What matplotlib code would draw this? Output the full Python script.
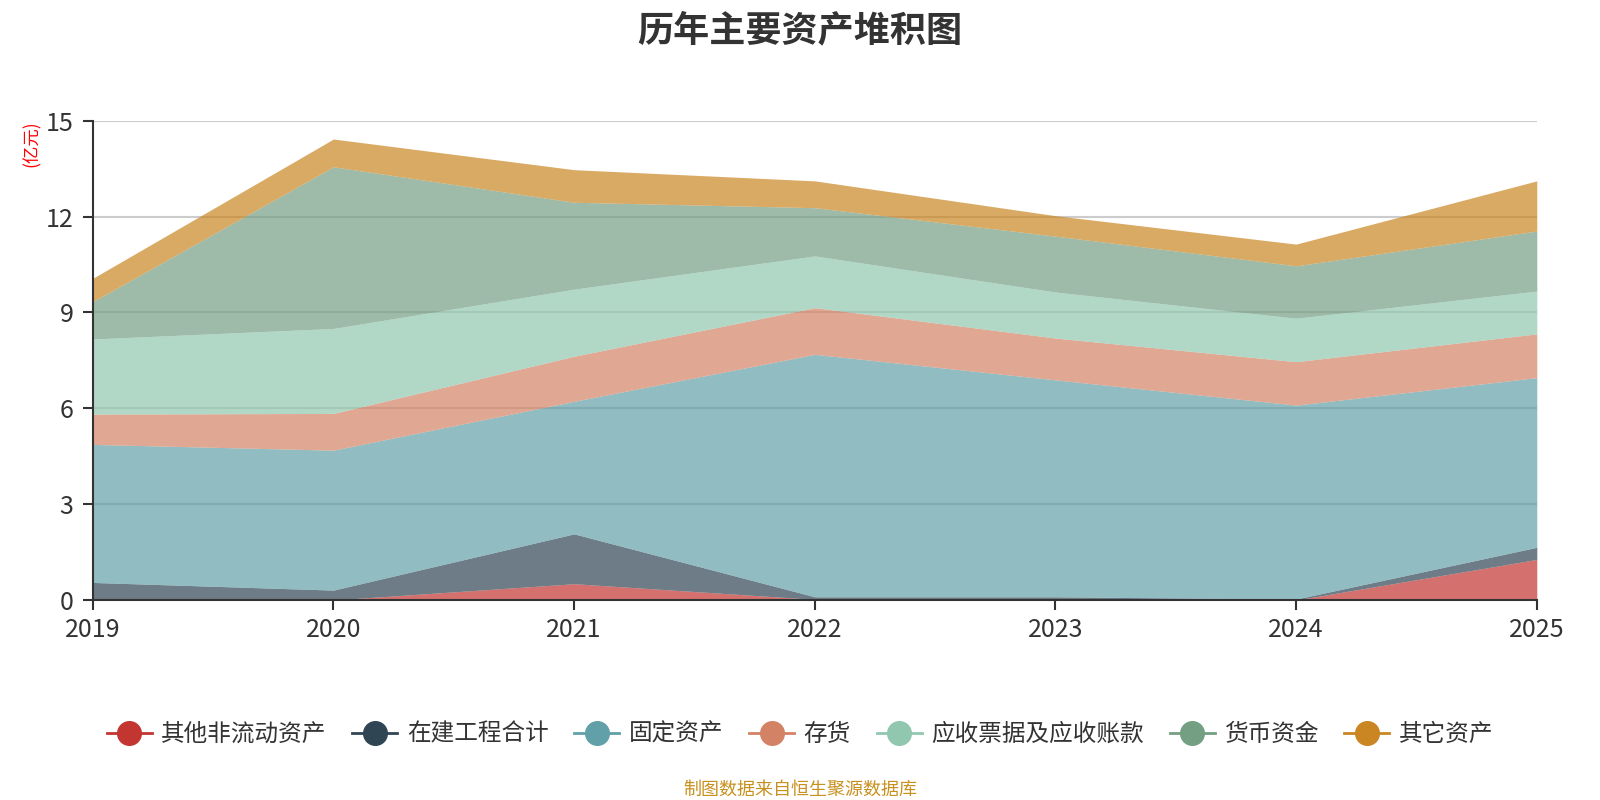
"""
历年主要资产堆积图
==================
堆积面积图，按年份展示各类资产（亿元）。
"""
import numpy as np
import matplotlib.pyplot as plt
from matplotlib.lines import Line2D

plt.rcParams["font.family"] = ["Noto Sans CJK SC", "DejaVu Sans"]
plt.rcParams["axes.unicode_minus"] = False

# 数据（亿元），自下而上堆积
years = [2019, 2020, 2021, 2022, 2023, 2024, 2025]
other_noncurrent = [0.00, 0.00, 0.51, 0.02, 0.01, 0.00, 1.27]   # 其他非流动资产
construction = [0.55, 0.31, 1.56, 0.08, 0.09, 0.03, 0.38]       # 在建工程合计
fixed_assets = [4.32, 4.38, 4.15, 7.59, 6.79, 6.07, 5.31]       # 固定资产
inventory = [0.95, 1.15, 1.41, 1.46, 1.31, 1.36, 1.37]          # 存货
receivables = [2.35, 2.66, 2.10, 1.62, 1.44, 1.36, 1.34]        # 应收票据及应收账款
cash = [1.17, 5.06, 2.72, 1.51, 1.75, 1.64, 1.88]               # 货币资金
other_assets = [0.73, 0.87, 1.02, 0.84, 0.64, 0.68, 1.57]       # 其它资产

series_names = ["其他非流动资产", "在建工程合计", "固定资产", "存货",
                "应收票据及应收账款", "货币资金", "其它资产"]
series_values = [other_noncurrent, construction, fixed_assets, inventory,
                 receivables, cash, other_assets]
colors = ["#c23531", "#2f4554", "#61a0a8", "#d48265",
          "#91c7ae", "#749f83", "#ca8622"]

fig = plt.figure(figsize=(16, 8), dpi=100)
ax = fig.add_axes([0.058, 0.25, 0.9025, 0.599])

# 堆积面积
base = np.zeros(len(years))
for name, vals, color in zip(series_names, series_values, colors):
    top = base + np.array(vals)
    ax.fill_between(years, base, top, color=color, alpha=0.7,
                    linewidth=0, zorder=2)
    base = top

# 坐标轴
ax.set_xlim(years[0], years[-1])
ax.set_ylim(0, 15)
ax.set_xticks(years)
ax.set_yticks(range(0, 16, 3))
ax.yaxis.grid(True, color="#cccccc", linewidth=1.5, zorder=1)
ax.set_axisbelow(True)
for side in ["top", "right"]:
    ax.spines[side].set_visible(False)
for side in ["left", "bottom"]:
    ax.spines[side].set_color("#333333")
    ax.spines[side].set_linewidth(1.5)
    ax.spines[side].set_zorder(3)
ax.tick_params(axis="both", colors="#333333", labelsize=18,
               length=7, width=1.5, direction="out")
ax.tick_params(axis="x", pad=5)
ax.tick_params(axis="y", pad=7)

# 标题、单位
fig.text(0.5, 0.962, "历年主要资产堆积图", ha="center", va="center",
         fontsize=26, fontweight="bold", color="#333333")
fig.text(0.02, 0.82, "(亿元)", ha="center", va="center", rotation=90,
         fontsize=12.5, color="red")

# 图例
handles = [
    Line2D([0], [0], color=c, linewidth=2, marker="o", markersize=17,
           markerfacecolor=c, markeredgecolor=c)
    for c in colors
]
fig.legend(handles, series_names, loc="center", bbox_to_anchor=(0.5, 0.082),
           ncol=7, frameon=False, fontsize=17, handlelength=1.9,
           handletextpad=0.4, columnspacing=1.1, labelcolor="#333333")

# 数据来源
fig.text(0.5, 0.013, "制图数据来自恒生聚源数据库", ha="center", va="center",
         fontsize=13, color="#c8901e")

plt.savefig("out.png", dpi=100)
plt.close()
